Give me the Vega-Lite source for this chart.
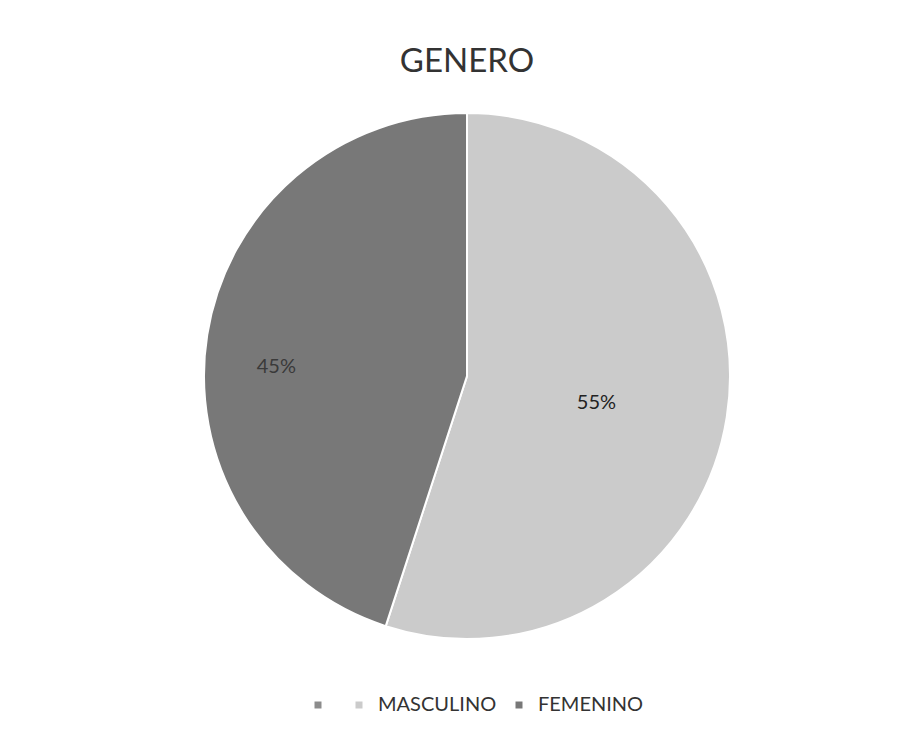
{
  "$schema": "https://vega.github.io/schema/vega-lite/v6.json",
  "autosize": "none",
  "width": 902,
  "height": 738,
  "padding": {"left": 16, "top": 7, "right": 0, "bottom": 0},
  "background": "white",
  "title": {"text": "GENERO", "font": "Lato", "fontSize": 33, "fontWeight": "normal", "color": "#333333", "anchor": "middle", "offset": -98, "baseline": "alphabetic"},
  "config": {"view": {"stroke": null}},
  "data": {"values": [
    {"genero": "", "porcentaje": 0, "orden": 0},
    {"genero": "MASCULINO", "porcentaje": 0.55, "orden": 1},
    {"genero": "FEMENINO", "porcentaje": 0.45, "orden": 2}
  ]},
  "encoding": {
    "theta": {"field": "porcentaje", "type": "quantitative", "stack": true},
    "order": {"field": "orden", "type": "quantitative"}
  },
  "layer": [
    {
      "mark": {"type": "arc", "outerRadius": 263, "stroke": "white", "strokeWidth": 2},
      "encoding": {
        "color": {"field": "genero", "type": "nominal",
          "scale": {"domain": ["", "MASCULINO", "FEMENINO"], "range": ["#8c8c8c", "#cbcbcb", "#787878"]},
          "legend": {"title": null, "orient": "none", "direction": "horizontal", "legendX": 292, "legendY": 688,
            "symbolType": "square", "symbolSize": 49, "symbolStrokeWidth": 0, "labelFont": "Lato", "labelFontSize": 20,
            "labelColor": "#333333", "labelOffset": 9, "columnPadding": 12}}
      }
    },
    {
      "mark": {"type": "text", "radius": 131, "font": "Lato", "fontSize": 20, "color": "#222222", "dy": 7},
      "encoding": {"text": {"condition": {"test": "datum.genero == 'MASCULINO'", "field": "porcentaje", "type": "quantitative", "format": ".0%"}, "value": ""}}
    },
    {
      "mark": {"type": "text", "radius": 193, "font": "Lato", "fontSize": 20, "color": "#3a3a3a", "dy": 21},
      "encoding": {"text": {"condition": {"test": "datum.genero == 'FEMENINO'", "field": "porcentaje", "type": "quantitative", "format": ".0%"}, "value": ""}}
    }
  ]
}
